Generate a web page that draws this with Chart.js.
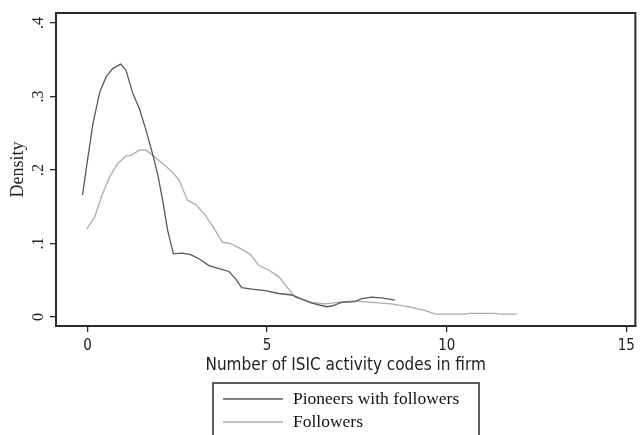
<!DOCTYPE html>
<html>
<head>
<meta charset="utf-8">
<script src="https://cdn.jsdelivr.net/npm/chart.js@4"></script>
<style>
    html, body { margin: 0; padding: 0; background: #fff; }
    #chart-container { width: 640px; height: 435px; }
</style>
</head>
<body>
<div id="chart-container"><canvas id="myChart" width="640" height="435"></canvas></div>
<script>
/*----------------------------------------------------------------------------*/
/* Data                                                                       */
/*----------------------------------------------------------------------------*/
const series_labels = ["Pioneers with followers", "Followers"];
const series_colors = ["#585858", "#ababab"];

const pioneers_x = [-0.14, -0.03, 0.15, 0.34, 0.52, 0.70, 0.92, 1.07, 1.26, 1.44, 1.63, 1.81, 1.95, 2.09, 2.23, 2.39, 2.64, 2.87, 3.11, 3.38, 3.66, 3.94, 4.12, 4.29, 4.58, 4.95, 5.32, 5.69, 5.88, 6.24, 6.66, 6.80, 7.07, 7.45, 7.63, 7.91, 8.18, 8.55];
const pioneers_y = [0.166, 0.204, 0.263, 0.306, 0.327, 0.338, 0.344, 0.336, 0.304, 0.284, 0.254, 0.222, 0.195, 0.159, 0.118, 0.086, 0.087, 0.085, 0.079, 0.070, 0.066, 0.062, 0.052, 0.040, 0.038, 0.036, 0.032, 0.030, 0.026, 0.019, 0.014, 0.015, 0.020, 0.021, 0.025, 0.027, 0.026, 0.023];

const followers_x = [-0.02, 0.20, 0.38, 0.61, 0.84, 1.07, 1.21, 1.44, 1.63, 1.81, 2.09, 2.37, 2.55, 2.78, 3.01, 3.24, 3.52, 3.75, 3.98, 4.26, 4.54, 4.77, 5.04, 5.32, 5.55, 5.78, 6.24, 6.61, 6.98, 7.45, 7.91, 8.46, 9.01, 9.39, 9.68, 10.49, 10.68, 11.32, 11.51, 11.95];
const followers_y = [0.120, 0.136, 0.163, 0.190, 0.209, 0.219, 0.220, 0.227, 0.227, 0.220, 0.209, 0.197, 0.186, 0.159, 0.153, 0.141, 0.121, 0.102, 0.100, 0.093, 0.085, 0.070, 0.064, 0.055, 0.041, 0.027, 0.020, 0.018, 0.020, 0.022, 0.020, 0.018, 0.013, 0.009, 0.004, 0.004, 0.005, 0.005, 0.004, 0.004];

const x_ticks = [0, 5, 10, 15];
const y_ticks = [0, 0.1, 0.2, 0.3, 0.4];
const y_tick_labels = ["0", ".1", ".2", ".3", ".4"];

const x_title = "Number of ISIC activity codes in firm";
const y_title = "Density";

/*----------------------------------------------------------------------------*/
/* Helpers                                                                    */
/*----------------------------------------------------------------------------*/
function to_points(xs, ys) {
    return xs.map((x, i) => ({ x: x, y: ys[i] }));
}

const frame_color = "#2a2a2a";
const serif_font = "'Liberation Serif', 'DejaVu Serif', serif";
const narrow_font = "'DejaVu Sans Condensed', 'Liberation Sans', sans-serif";

// plot box (top and right edges) + rotated y tick labels + legend box
const stata_plugin = {
    id: "stata",
    afterDraw(chart) {
        const ctx = chart.ctx;
        const area = chart.chartArea;
        const y_scale = chart.scales.y;

        ctx.save();
        ctx.strokeStyle = frame_color;
        ctx.lineWidth = 2;
        ctx.strokeRect(area.left, area.top, area.right - area.left, area.bottom - area.top);

        // y tick labels, rotated like stata
        ctx.fillStyle = "#222";
        ctx.font = `16px ${serif_font}`;
        ctx.textAlign = "center";
        ctx.textBaseline = "middle";
        y_ticks.forEach((v, i) => {
            const py = y_scale.getPixelForValue(v);
            ctx.save();
            ctx.translate(39, py);
            ctx.rotate(-Math.PI / 2);
            ctx.fillText(y_tick_labels[i], 0, 0);
            ctx.restore();
        });

        // legend
        const box_left = 213, box_right = 479, box_top = 383;
        ctx.strokeStyle = frame_color;
        ctx.lineWidth = 1.5;
        ctx.beginPath();
        ctx.moveTo(box_left, chart.height + 2);
        ctx.lineTo(box_left, box_top);
        ctx.lineTo(box_right, box_top);
        ctx.lineTo(box_right, chart.height + 2);
        ctx.stroke();

        ctx.font = `17.5px ${serif_font}`;
        ctx.textAlign = "left";
        chart.data.datasets.forEach((ds, i) => {
            const ly = 399 + i * 23;
            ctx.strokeStyle = ds.borderColor;
            ctx.lineWidth = 1.3;
            ctx.beginPath();
            ctx.moveTo(223, ly);
            ctx.lineTo(283, ly);
            ctx.stroke();
            ctx.fillStyle = "#111";
            ctx.fillText(ds.label, 293, ly);
        });
        ctx.restore();
    }
};

/*----------------------------------------------------------------------------*/
/* Chart                                                                      */
/*----------------------------------------------------------------------------*/
const data = {
    datasets: [{
        label: series_labels[0],
        data: to_points(pioneers_x, pioneers_y),
        borderColor: series_colors[0],
        borderWidth: 1.3,
        pointRadius: 0,
        tension: 0
    }, {
        label: series_labels[1],
        data: to_points(followers_x, followers_y),
        borderColor: series_colors[1],
        borderWidth: 1.3,
        pointRadius: 0,
        tension: 0
    }]
};

const config = {
    type: "line",
    data: data,
    options: {
        responsive: false,
        animation: false,
        layout: { padding: { left: 0, top: 13, right: 3, bottom: 0 } },
        plugins: {
            legend: { display: false },
            tooltip: { enabled: false }
        },
        scales: {
            x: {
                type: "linear",
                min: -0.878,
                max: 15.25,
                afterBuildTicks: (scale) => { scale.ticks = x_ticks.map(v => ({ value: v })); },
                afterFit: (scale) => { scale.height = 109; },
                border: { display: true, color: frame_color, width: 2 },
                grid: { drawOnChartArea: false, drawTicks: true, tickLength: 6, color: frame_color, lineWidth: 1.3 },
                ticks: {
                    color: "#222",
                    padding: 5,
                    maxRotation: 0,
                    font: { family: narrow_font, size: 15 }
                },
                title: {
                    display: true,
                    text: x_title,
                    color: "#222",
                    font: { family: narrow_font, size: 17 },
                    padding: { top: 0, bottom: 59 }
                }
            },
            y: {
                type: "linear",
                min: -0.0122,
                max: 0.4136,
                afterBuildTicks: (scale) => { scale.ticks = y_ticks.map(v => ({ value: v })); },
                afterFit: (scale) => { scale.width = 56; },
                border: { display: true, color: frame_color, width: 2 },
                grid: { drawOnChartArea: false, drawTicks: true, tickLength: 6, color: frame_color, lineWidth: 1.3 },
                ticks: { display: false },
                title: {
                    display: true,
                    text: y_title,
                    color: "#222",
                    font: { family: serif_font, size: 18 },
                    padding: { top: 7, bottom: 0 }
                }
            }
        }
    },
    plugins: [stata_plugin]
};

const ctx = document.getElementById("myChart").getContext("2d");
const myChart = new Chart(ctx, config);
</script>
</body>
</html>
